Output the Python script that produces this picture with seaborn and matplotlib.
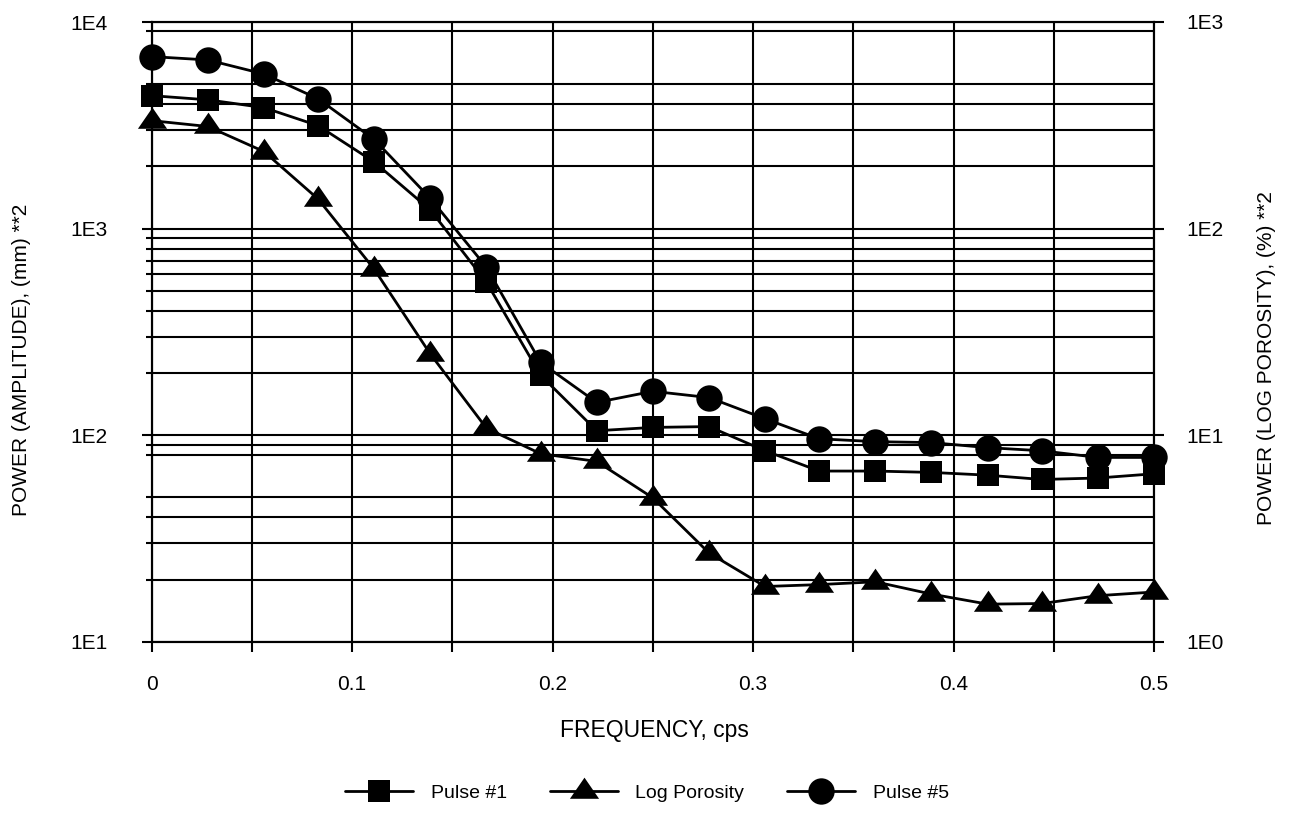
import numpy as np
import pandas as pd
import matplotlib
matplotlib.use("Agg")
import matplotlib.pyplot as plt
import seaborn as sns
from matplotlib.ticker import FixedLocator, FuncFormatter, NullFormatter
from matplotlib.path import Path

# ---------------- data ----------------
freq = [0.000, 0.028, 0.056, 0.083, 0.111, 0.139, 0.167, 0.194, 0.222, 0.250,
        0.278, 0.306, 0.333, 0.361, 0.389, 0.417, 0.444, 0.472, 0.500]
pulse1 = [4400, 4200, 3850, 3150, 2100, 1230, 550, 195, 105, 109,
          110, 84, 67, 67, 66, 64, 61, 62, 65]
pulse5 = [6800, 6550, 5600, 4250, 2700, 1400, 650, 225, 144, 163,
          152, 120, 96, 93, 92, 87, 84, 78, 78]
log_porosity = [333, 312, 236, 139, 63.6, 24.7, 10.8, 8.13, 7.46, 4.97,
                2.69, 1.85, 1.89, 1.95, 1.70, 1.52, 1.53, 1.67, 1.74]

series_names = ["Pulse #1", "Log Porosity", "Pulse #5"]
x_label = "FREQUENCY, cps"
y_left_label = "POWER (AMPLITUDE), (mm) **2"
y_right_label = "POWER (LOG POROSITY), (%) **2"
left_major = [10, 100, 1000, 10000]
left_minor = [20, 30, 40, 50, 80, 90,
              200, 300, 400, 500, 600, 700, 800, 900,
              2000, 3000, 4000, 5000, 9000]
right_major = [1, 10, 100, 1000]
x_major = [0, 0.1, 0.2, 0.3, 0.4, 0.5]
x_minor = [0.05, 0.15, 0.25, 0.35, 0.45]

df_left = pd.DataFrame({"freq": freq, "p1": pulse1, "p5": pulse5})
df_right = pd.DataFrame({"freq": freq, "lp": log_porosity})

# ---------------- style ----------------
sns.set_style("white")
plt.rcParams["font.family"] = ["Liberation Sans", "DejaVu Sans"]
plt.rcParams["text.color"] = "black"
plt.rcParams["axes.labelcolor"] = "black"
plt.rcParams["xtick.color"] = "black"
plt.rcParams["ytick.color"] = "black"

W, H = 1289, 815
fig = plt.figure(figsize=(W / 100, H / 100), dpi=100)
x0, x1, y0, y1 = 151.7, 1154.0, 22.0, 641.7
ax = fig.add_axes([x0 / W, 1 - y1 / H, (x1 - x0) / W, (y1 - y0) / H])
ax2 = ax.twinx()

lw = 2.0
tri = Path([(0, 0.95), (-1, -0.5), (1, -0.5), (0, 0.95)], closed=True)

sns.lineplot(data=df_left, x="freq", y="p1", ax=ax, color="black", lw=lw,
             marker="s", markersize=16, markeredgewidth=0, legend=False,
             clip_on=False, zorder=4)
sns.lineplot(data=df_left, x="freq", y="p5", ax=ax, color="black", lw=lw,
             marker="o", markersize=19, markeredgewidth=0, legend=False,
             clip_on=False, zorder=3)
sns.lineplot(data=df_right, x="freq", y="lp", ax=ax2, color="black", lw=lw,
             marker=tri, markersize=21, markeredgewidth=0, legend=False,
             clip_on=False, zorder=4)

ax.set_yscale("log")
ax2.set_yscale("log")
ax.set_ylim(10, 10000)
ax2.set_ylim(1, 1000)
ax.set_xlim(0, 0.5)

# ticks
ax.yaxis.set_major_locator(FixedLocator(left_major))
ax.yaxis.set_minor_locator(FixedLocator(left_minor))
ax.yaxis.set_major_formatter(FuncFormatter(lambda v, p: "1E%d" % round(np.log10(v))))
ax.yaxis.set_minor_formatter(NullFormatter())
ax2.yaxis.set_major_locator(FixedLocator(right_major))
ax2.yaxis.set_minor_locator(FixedLocator([]))
ax2.yaxis.set_major_formatter(FuncFormatter(lambda v, p: "1E%d" % round(np.log10(v))))
ax2.yaxis.set_minor_formatter(NullFormatter())
ax.xaxis.set_major_locator(FixedLocator(x_major))
ax.xaxis.set_minor_locator(FixedLocator(x_minor))
ax.xaxis.set_major_formatter(FuncFormatter(lambda v, p: "0" if v == 0 else ("%.1f" % v)))

fs = 15
ax.tick_params(axis="y", which="major", direction="out", length=7, width=1.5,
               pad=25, labelsize=fs, colors="black", left=True, right=False)
ax.tick_params(axis="y", which="minor", direction="out", length=4, width=1.5,
               left=True, right=False)
ax.tick_params(axis="x", which="both", direction="out", length=7, width=1.5,
               pad=17, labelsize=fs, colors="black", bottom=True)
ax2.tick_params(axis="y", which="major", direction="out", length=7, width=1.5,
                pad=16, labelsize=fs, colors="black", right=True, left=False)

# grid
ax.set_axisbelow(True)
ax.grid(True, which="both", axis="both", color="black", lw=1.5)

for a in (ax, ax2):
    for s in a.spines.values():
        s.set_color("black")
        s.set_linewidth(1.5)
    a.set_xlabel("")
    a.set_ylabel("")

# labels
fig.text(654 / W, 1 - 731 / H, x_label, ha="center", va="center",
         fontsize=16.5, color="black")
fig.text(22 / W, 1 - 360 / H, y_left_label, ha="center", va="center",
         rotation=90, fontsize=fs, color="black")
fig.text(1266 / W, 1 - 358 / H, y_right_label, ha="center", va="center",
         rotation=90, fontsize=fs, color="black")

# legend
h1 = ax.lines[0]
h5 = ax.lines[1]
hl = ax2.lines[0]
leg = fig.legend([h1, hl, h5], series_names, loc="center", ncol=3, frameon=False,
                 bbox_to_anchor=(647 / W, 1 - 793 / H), fontsize=14,
                 handlelength=3.5, handletextpad=0.9, columnspacing=2.2,
                 markerscale=1.0)
for t in leg.get_texts():
    t.set_color("black")

fig.savefig("out.png", dpi=100)
